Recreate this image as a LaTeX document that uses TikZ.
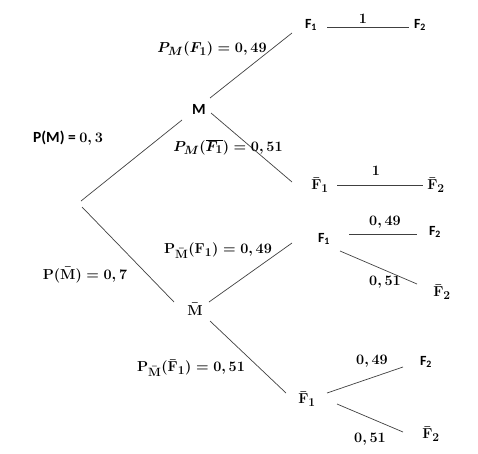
\documentclass[tikz,border=0pt]{standalone}
\usepackage{fontspec}
\usetikzlibrary{calc}
\newfontfamily\calib{Carlito}
\DeclareMathSizes{15}{15}{11.5}{9}
\begin{document}
\begin{tikzpicture}[x=1pt,y=-1pt,
  every node/.style={inner sep=0pt, font=\fontsize{15}{17}\selectfont\boldmath},
  sf/.style={font=\fontsize{14}{16}\selectfont\calib\bfseries},
  sfb/.style={font=\fontsize{15.5}{17}\selectfont\calib\bfseries},
  br/.style={draw=black!75, line width=0.7pt}]
\useasboundingbox (0,0) rectangle (478,453);
% tree nodes
\coordinate (root) at (80,204);
\node[sfb] (M) at (199,109) {M};
\node[sf] (F1a) at (311,25) {F\textsubscript{1}};
\node[sf] (F2a) at (420,25) {F\textsubscript{2}};
\node (Fb1a) at (320,185) {$\bar{\mathbf F}_{\mathbf 1}$};
\node (Fb2a) at (436,185) {$\bar{\mathbf F}_{\mathbf 2}$};
\node (Mb) at (195,309) {$\bar{\mathbf M}$};
\node[sf] (F1b) at (324,239) {F\textsubscript{1}};
\node[sf] (F2b) at (435,232) {F\textsubscript{2}};
\node (Fb2b) at (442,292) {$\bar{\mathbf F}_{\mathbf 2}$};
\node (Fb1b) at (307,399) {$\bar{\mathbf F}_{\mathbf 1}$};
\node[sf] (F2c) at (426,362) {F\textsubscript{2}};
\node (Fb2c) at (431,434) {$\bar{\mathbf F}_{\mathbf 2}$};
% branches
\draw[br] ($(root)+(1,-3)$) -- ($(M)+(-17,11)$);
\draw[br] ($(M)+(11,-11)$) -- ($(F1a)+(-19,8)$);
\draw[br] ($(F1a)+(16,2)$) -- ($(F2a)+(-11,2)$);
\draw[br] ($(M)+(12,4)$) -- ($(Fb1a)+(-28,-3)$);
\draw[br] ($(Fb1a)+(17,0)$) -- ($(Fb2a)+(-13,0)$);
\draw[br] ($(root)+(2,3)$) -- ($(Mb)+(-21,-7)$);
\draw[br] ($(Mb)+(14,-7)$) -- ($(F1b)+(-32,4)$);
\draw[br] ($(F1b)+(25,-5)$) -- ($(F2b)+(-18,2)$);
\draw[br] ($(F1b)+(16,12)$) -- ($(Fb2b)+(-25,-8)$);
\draw[br] ($(Mb)+(15,12)$) -- ($(Fb1b)+(-21,-6)$);
\draw[br] ($(Fb1b)+(20,-6)$) -- ($(F2c)+(-23,5)$);
\draw[br] ($(Fb1b)+(30,5)$) -- ($(Fb2c)+(-28,-2)$);
% probability labels
\node (pM) at (68,138) {{\calib\bfseries\fontsize{15.5}{17}\selectfont P(M) = }$0,3$};
\node (pMF1) at (212,49) {$P_M(F_1) = 0,49$};
\node (pMFb1) at (228,147) {$P_M(\overline{F_1}) = 0,51$};
\node (pMb) at (85,275) {$\mathbf{P}(\bar{\mathbf M}) = 0,7$};
\node (pMbF1) at (218,251) {$\mathbf{P}_{\bar{\mathbf M}}(\mathbf F_{\mathbf 1}) = 0,49$};
\node (pMbFb1) at (191,368) {$\mathbf{P}_{\bar{\mathbf M}}(\bar{\mathbf F}_{\mathbf 1}) = 0,51$};
\node (oneA) at (363,19) {$1$};
\node (oneB) at (376,171) {$1$};
\node (eA) at (385,222) {$0,49$};
\node (eB) at (385,282) {$0,51$};
\node (eC) at (372,361) {$0,49$};
\node (eD) at (370,439) {$0,51$};
\end{tikzpicture}
\end{document}
